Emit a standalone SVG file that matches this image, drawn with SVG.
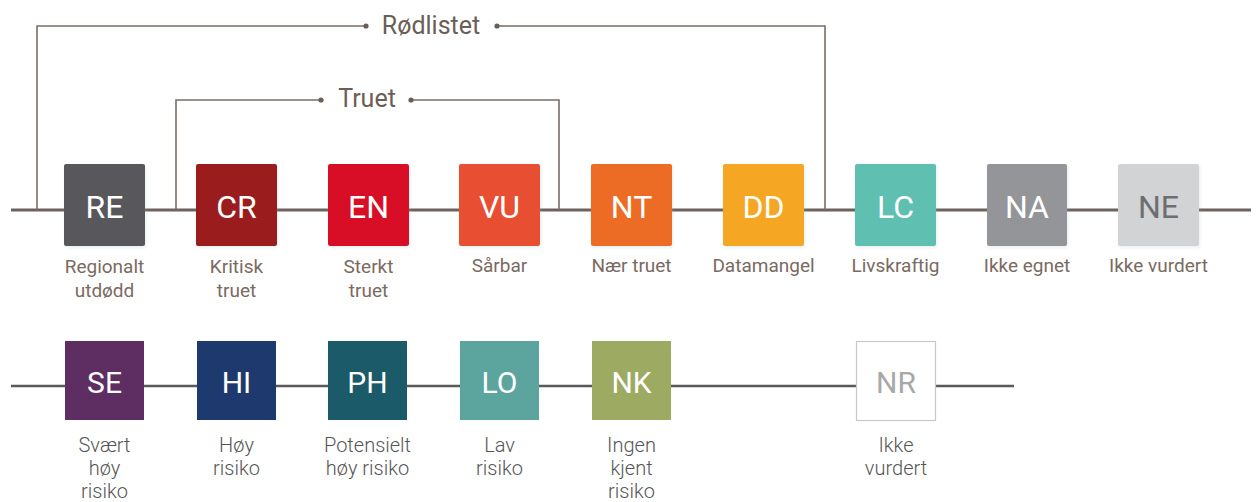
<svg xmlns="http://www.w3.org/2000/svg" width="1257" height="502" viewBox="0 0 1257 502">
<style>
.box{stroke:none}
.code{font-family:Roboto,"Liberation Sans",sans-serif;font-size:32px;fill:#ffffff;text-anchor:middle}
.code2{font-family:Roboto,"Liberation Sans",sans-serif;font-size:30px;fill:#ffffff;text-anchor:middle}
.lbl{font-family:Roboto,"Liberation Sans",sans-serif;font-size:19px;fill:#7a6a62;text-anchor:middle}
.lbl2{font-family:Roboto,"Liberation Sans",sans-serif;font-size:20px;font-weight:300;fill:#555555;text-anchor:middle}
.head{font-family:Roboto,"Liberation Sans",sans-serif;font-size:25px;fill:#6b5e57;text-anchor:middle}
.brk{fill:none;stroke:#7a6e68;stroke-width:1.6}
.main{stroke:#6e625c;stroke-width:3}
.main2{stroke:#5a5a5a;stroke-width:2.6}
.dot{fill:#6b5e57}
</style>
<defs>
<filter id="sh" x="-10%" y="-10%" width="125%" height="125%">
<feDropShadow dx="1" dy="1.5" stdDeviation="1.5" flood-color="#9bb" flood-opacity="0.25"/>
</filter>
</defs>
<g id="connectors">
<line class="main" x1="11" y1="210" x2="1251" y2="210"/>
<line class="main2" x1="11" y1="386" x2="1014" y2="386"/>
<path class="brk" d="M37 210 V26 H366 M497 26 H825 V210"/>
<path class="brk" d="M176 210 V100 H321 M411 100 H559 V210"/>
<circle class="dot" cx="366" cy="26" r="2.6"/>
<circle class="dot" cx="497" cy="26" r="2.6"/>
<circle class="dot" cx="321" cy="100" r="2.6"/>
<circle class="dot" cx="411" cy="100" r="2.6"/>
</g>
<g id="label-rodlistet"><text class="head" x="431" y="34">Rødlistet</text></g>
<g id="label-truet"><text class="head" x="367" y="107">Truet</text></g>
<g id="RE"><rect filter="url(#sh)" x="64" y="164" width="81" height="82" rx="2" fill="#58595b"/><text class="code" x="104.5" y="218">RE</text><text class="lbl" x="104.5" y="273">Regionalt</text><text class="lbl" x="104.5" y="297">utdødd</text></g>
<g id="CR"><rect filter="url(#sh)" x="196" y="164" width="81" height="82" rx="2" fill="#9b1a1e"/><text class="code" x="236.5" y="218">CR</text><text class="lbl" x="236.5" y="273">Kritisk</text><text class="lbl" x="236.5" y="297">truet</text></g>
<g id="EN"><rect filter="url(#sh)" x="328" y="164" width="81" height="82" rx="2" fill="#d80f28"/><text class="code" x="368.5" y="218">EN</text><text class="lbl" x="368.5" y="273">Sterkt</text><text class="lbl" x="368.5" y="297">truet</text></g>
<g id="VU"><rect filter="url(#sh)" x="459" y="164" width="81" height="82" rx="2" fill="#e84f33"/><text class="code" x="499.5" y="218">VU</text><text class="lbl" x="499.5" y="272">Sårbar</text></g>
<g id="NT"><rect filter="url(#sh)" x="591" y="164" width="81" height="82" rx="2" fill="#ec6c26"/><text class="code" x="631.5" y="218">NT</text><text class="lbl" x="631.5" y="272">Nær truet</text></g>
<g id="DD"><rect filter="url(#sh)" x="723" y="164" width="81" height="82" rx="2" fill="#f5a623"/><text class="code" x="763.5" y="218">DD</text><text class="lbl" x="763.5" y="272">Datamangel</text></g>
<g id="LC"><rect filter="url(#sh)" x="855" y="164" width="81" height="82" rx="2" fill="#5fbfb0"/><text class="code" x="895.5" y="218">LC</text><text class="lbl" x="895.5" y="272">Livskraftig</text></g>
<g id="NA"><rect filter="url(#sh)" x="987" y="164" width="80" height="82" rx="2" fill="#939598"/><text class="code" x="1027" y="218">NA</text><text class="lbl" x="1027" y="272">Ikke egnet</text></g>
<g id="NE"><rect filter="url(#sh)" x="1118" y="164" width="81" height="82" rx="2" fill="#d1d3d4"/><text class="code" x="1158.5" y="218" style="fill:#6d6e70">NE</text><text class="lbl" x="1158.5" y="272">Ikke vurdert</text></g>
<g id="SE"><rect x="65" y="341" width="79" height="79" fill="#5e2e62"/><text class="code2" x="104.5" y="393">SE</text><text class="lbl2" x="104.5" y="452">Svært</text><text class="lbl2" x="104.5" y="475">høy</text><text class="lbl2" x="104.5" y="498">risiko</text></g>
<g id="HI"><rect x="197" y="341" width="79" height="79" fill="#1d396d"/><text class="code2" x="236.5" y="393">HI</text><text class="lbl2" x="236.5" y="452">Høy</text><text class="lbl2" x="236.5" y="475">risiko</text></g>
<g id="PH"><rect x="328" y="341" width="79" height="79" fill="#1b5a68"/><text class="code2" x="367.5" y="393">PH</text><text class="lbl2" x="367.5" y="452">Potensielt</text><text class="lbl2" x="367.5" y="475">høy risiko</text></g>
<g id="LO"><rect x="460" y="341" width="79" height="79" fill="#5ca59f"/><text class="code2" x="499.5" y="393">LO</text><text class="lbl2" x="499.5" y="452">Lav</text><text class="lbl2" x="499.5" y="475">risiko</text></g>
<g id="NK"><rect x="592" y="341" width="79" height="79" fill="#9caa62"/><text class="code2" x="631.5" y="393">NK</text><text class="lbl2" x="631.5" y="452">Ingen</text><text class="lbl2" x="631.5" y="475">kjent</text><text class="lbl2" x="631.5" y="498">risiko</text></g>
<g id="NR"><rect x="856.5" y="341.5" width="79" height="79" fill="#ffffff" stroke="#c8c8c8" stroke-width="1.2"/><text class="code2" x="896" y="393" style="fill:#a8a8a8">NR</text><text class="lbl2" x="896" y="452">Ikke</text><text class="lbl2" x="896" y="475">vurdert</text></g>
</svg>
